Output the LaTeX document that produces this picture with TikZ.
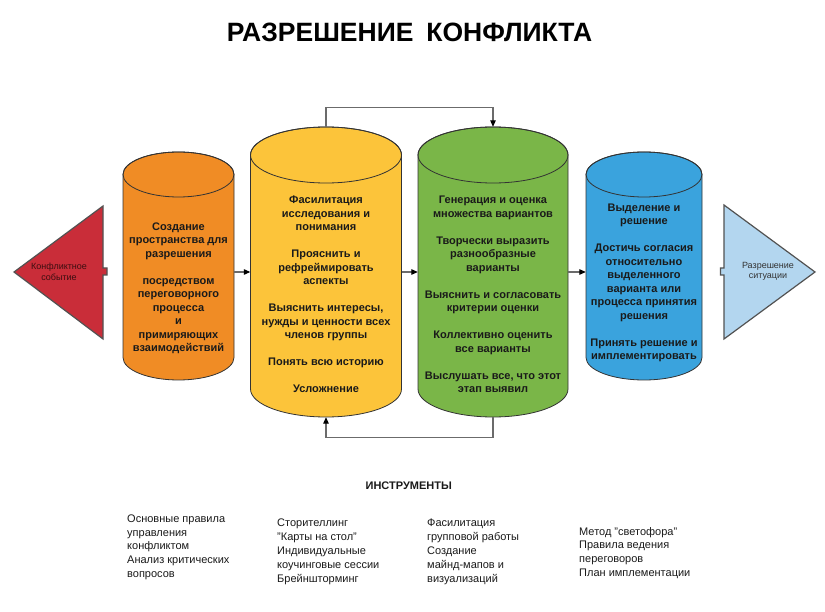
\documentclass[tikz,border=0pt]{standalone}
\usepackage{fontspec}
\setmainfont{Liberation Sans}
\usetikzlibrary{arrows.meta}

\definecolor{orng}{HTML}{F08C25}
\definecolor{yell}{HTML}{FCC43A}
\definecolor{gren}{HTML}{7AB648}
\definecolor{blu}{HTML}{3AA3DD}
\definecolor{redt}{HTML}{C92D39}
\definecolor{lblu}{HTML}{B3D6EF}
\definecolor{edge}{HTML}{333333}
\definecolor{wire}{HTML}{6B6B6B}
\definecolor{ink}{HTML}{1A1A1A}

\tikzset{
  drum/.style={draw=edge, line width=0.8pt},
  slot/.style={rectangle, inner sep=0pt},
  drumtext/.style={font=\bfseries\fontsize{11}{13.5}\selectfont, align=center, text=ink, inner sep=0pt},
  tri/.style={draw=edge!85, line width=1.2pt, line join=miter},
  tritext/.style={font=\fontsize{9}{10.5}\selectfont, align=center, inner sep=0pt},
  flow/.style={draw=wire, line width=1.1pt, -{Triangle[length=6.5pt,width=5.5pt,color=black]}},
  tool/.style={font=\fontsize{11}{13.8}\selectfont, align=left, anchor=north west, text=ink, inner sep=0pt},
}

\begin{document}
\begin{tikzpicture}[x=1pt,y=-1pt]
\fill[white] (0,0) rectangle (825,612);
\useasboundingbox (0,0) rectangle (825,612);

\node[font=\bfseries\fontsize{26.5}{30}\selectfont, text=black] (title) at (409.5,32) {РАЗРЕШЕНИЕ\hspace{13pt}КОНФЛИКТА};

% start and end
\filldraw[tri, fill=redt] (14,272) -- (103,206) -- (103,268) -- (107,268) -- (107,275) -- (103,275) -- (103,339) -- cycle;
\node[tritext, text=redt!30!black] (start) at (59,272) {Конфликтное\\событие};
\filldraw[tri, fill=lblu] (724,205) -- (815,272) -- (724,339) -- (724,275) -- (720.5,275) -- (720.5,268) -- (724,268) -- cycle;
\node[tritext, text=edge] (finish) at (768,271.5) {Разрешение\\ситуации};

% stages
\node[slot, minimum width=111pt, minimum height=228pt] (stage1) at (178.5,266) {};
\node[slot, minimum width=151pt, minimum height=290pt] (stage2) at (326,272) {};
\node[slot, minimum width=150pt, minimum height=290pt] (stage3) at (493,272) {};
\node[slot, minimum width=116pt, minimum height=228pt] (stage4) at (644,266) {};

\filldraw[drum, fill=orng] (123,174.5) -- (123,357.5) arc[start angle=180, end angle=0, x radius=55.5, y radius=22.5] -- (234,174.5) arc[start angle=0, end angle=-180, x radius=55.5, y radius=22.5] -- cycle;
\draw[drum] (178.5,174.5) ellipse[x radius=55.5, y radius=22.5];

\filldraw[drum, fill=yell] (250.5,155) -- (250.5,389) arc[start angle=180, end angle=0, x radius=75.5, y radius=28] -- (401.5,155) arc[start angle=0, end angle=-180, x radius=75.5, y radius=28] -- cycle;
\draw[drum] (326,155) ellipse[x radius=75.5, y radius=28];

\filldraw[drum, fill=gren] (418,155) -- (418,389) arc[start angle=180, end angle=0, x radius=75, y radius=28] -- (568,155) arc[start angle=0, end angle=-180, x radius=75, y radius=28] -- cycle;
\draw[drum] (493,155) ellipse[x radius=75, y radius=28];

\filldraw[drum, fill=blu] (586,174.5) -- (586,357.5) arc[start angle=180, end angle=0, x radius=58, y radius=22.5] -- (702,174.5) arc[start angle=0, end angle=-180, x radius=58, y radius=22.5] -- cycle;
\draw[drum] (644,174.5) ellipse[x radius=58, y radius=22.5];

\node[drumtext] (label1) at (178.5,288.5) {Создание\\пространства для\\разрешения\\[13.5pt]посредством\\переговорного\\процесса\\и\\примиряющих\\взаимодействий};
\node[drumtext] (label2) at (326,294.5) {Фасилитация\\исследования и\\понимания\\[13.5pt]Прояснить и\\рефреймировать\\аспекты\\[13.5pt]Выяснить интересы,\\нужды и ценности всех\\членов группы\\[13.5pt]Понять всю историю\\[13.5pt]Усложнение};
\node[drumtext] (label3) at (493,294.5) {Генерация и оценка\\множества вариантов\\[13.5pt]Творчески выразить\\разнообразные\\варианты\\[13.5pt]Выяснить и согласовать\\критерии оценки\\[13.5pt]Коллективно оценить\\все варианты\\[13.5pt]Выслушать все, что этот\\этап выявил};
\node[drumtext] (label4) at (644,283) {Выделение и\\решение\\[13.5pt]Достичь согласия\\относительно\\выделенного\\варианта или\\процесса принятия\\решения\\[13.5pt]Принять решение и\\имплементировать};

% connectors
\draw[flow] (stage1.east |- stage2.west) -- (stage2.west);
\draw[flow] (stage2.east) -- (stage3.west);
\draw[flow] (stage3.east) -- (stage4.west |- stage3.east);
\draw[flow] (stage2.north) -- ++(0,-19.5) -| (stage3.north);
\draw[flow] (stage3.south) -- ++(0,20) -| (stage2.south);

% tools
\node[font=\bfseries\fontsize{11}{13}\selectfont, text=ink] (tools) at (408.7,486) {ИНСТРУМЕНТЫ};
\node[tool] (tool1) at (127,514.5) {Основные правила\\управления\\конфликтом\\Анализ критических\\вопросов};
\node[tool] (tool2) at (277,519) {Сторителлинг\\"Карты на стол"\\Индивидуальные\\коучинговые сессии\\Брейншторминг};
\node[tool] (tool3) at (427,519) {Фасилитация\\групповой работы\\Создание\\майнд-мапов и\\визуализаций};
\node[tool] (tool4) at (579,527) {Метод "светофора"\\Правила ведения\\переговоров\\План имплементации};

\end{tikzpicture}
\end{document}
